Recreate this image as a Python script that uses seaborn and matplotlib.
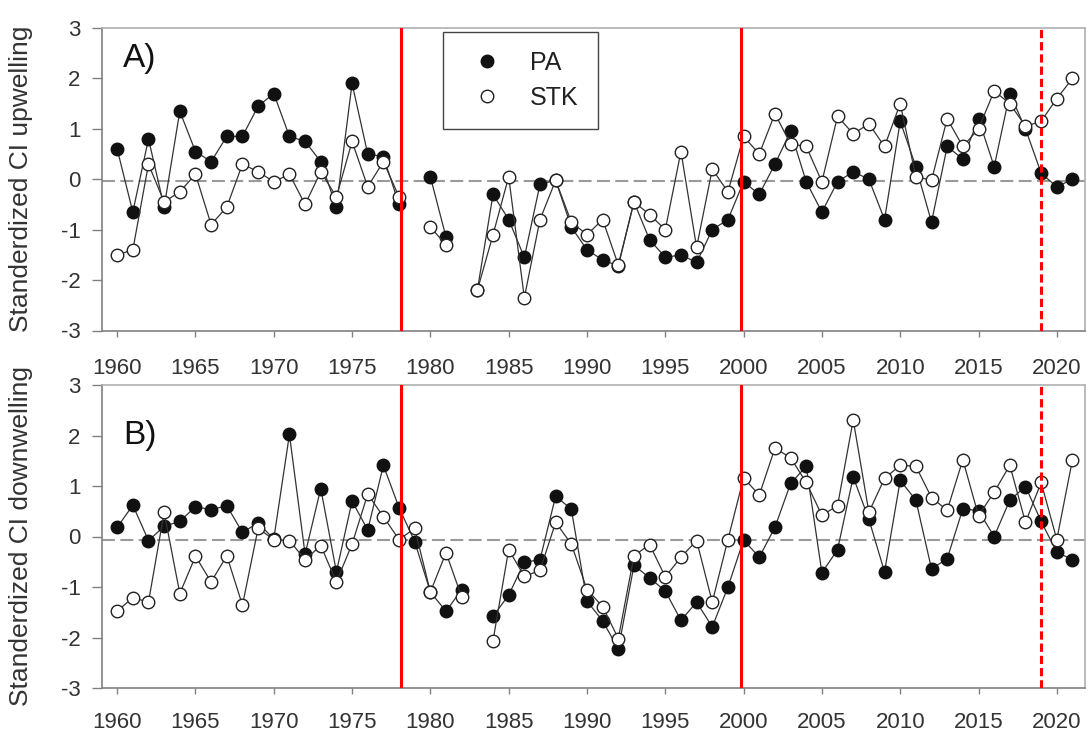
import numpy as np
import pandas as pd
import matplotlib
matplotlib.use("Agg")
import matplotlib.pyplot as plt
import seaborn as sns
from matplotlib.lines import Line2D

nan = np.nan
years = list(range(1960, 2022))

# Panel A: upwelling
up_pa = [0.6, -0.65, 0.8, -0.55, 1.35, 0.55, 0.35, 0.85, 0.85, 1.45,
         1.7, 0.85, 0.75, 0.35, -0.55, 1.9, 0.5, 0.45, -0.5, nan,
         0.05, -1.15, nan, -2.2, -0.3, -0.8, -1.55, -0.1, -0.02, -0.95,
         -1.4, -1.6, -1.72, -0.45, -1.2, -1.55, -1.5, -1.65, -1.0, -0.8,
         -0.05, -0.3, 0.3, 0.95, -0.05, -0.65, -0.05, 0.15, 0.0, -0.8,
         1.15, 0.25, -0.85, 0.65, 0.4, 1.2, 0.25, 1.7, 1.0, 0.12,
         -0.15, 0.0]
up_stk = [-1.5, -1.4, 0.3, -0.45, -0.25, 0.1, -0.9, -0.55, 0.3, 0.15,
          -0.05, 0.1, -0.5, 0.15, -0.35, 0.75, -0.15, 0.35, -0.35, nan,
          -0.95, -1.3, nan, -2.2, -1.1, 0.05, -2.35, -0.8, -0.02, -0.85,
          -1.1, -0.8, -1.7, -0.45, -0.7, -1.0, 0.55, -1.35, 0.2, -0.25,
          0.85, 0.5, 1.3, 0.7, 0.65, -0.05, 1.25, 0.9, 1.1, 0.65,
          1.5, 0.05, -0.02, 1.2, 0.65, 1.0, 1.75, 1.5, 1.05, 1.15,
          1.6, 2.0]

# Panel B: downwelling
dn_pa = [0.18, 0.62, -0.08, 0.2, 0.3, 0.59, 0.53, 0.61, 0.08, 0.27,
         -0.05, 2.02, -0.35, 0.95, -0.7, 0.7, 0.13, 1.41, 0.57, -0.1,
         -1.1, -1.48, -1.05, nan, -1.58, -1.16, -0.51, -0.46, 0.8, 0.54,
         -1.28, -1.67, -2.23, -0.57, -0.82, -1.08, -1.66, -1.3, -1.79, -1.0,
         -0.07, -0.41, 0.18, 1.05, 1.39, -0.72, -0.26, 1.18, 0.34, -0.7,
         1.11, 0.72, -0.64, -0.44, 0.55, 0.51, 0.0, 0.72, 0.99, 0.3,
         -0.31, -0.46]
dn_stk = [-1.48, -1.21, -1.3, 0.48, -1.13, -0.39, -0.9, -0.38, -1.36, 0.16,
          -0.06, -0.08, -0.46, -0.18, -0.9, -0.15, 0.84, 0.39, -0.06, 0.16,
          -1.1, -0.32, -1.2, nan, -2.06, -0.26, -0.79, -0.67, 0.28, -0.15,
          -1.05, -1.39, -2.02, -0.38, -0.16, -0.8, -0.41, -0.08, -1.3, -0.06,
          1.16, 0.82, 1.75, 1.56, 1.07, 0.42, 0.61, 2.31, 0.48, 1.15,
          1.41, 1.39, 0.77, 0.52, 1.52, 0.41, 0.88, 1.41, 0.28, 1.07,
          -0.06, 1.52]

regime_years = [1978.15, 1999.85]
recent_year = 2019.0
series_labels = ["PA", "STK"]
x_ticks = list(range(1960, 2021, 5))
y_ticks = [-3, -2, -1, 0, 1, 2, 3]

sns.set_theme(style="white")
plt.rcParams["font.family"] = ["Liberation Sans", "DejaVu Sans"]

TXT = "#333333"
SPINE = "#808080"


def segments(vals):
    df = pd.DataFrame({"year": years, "value": vals})
    df["seg"] = df["value"].isna().cumsum()
    return df.dropna()


def panel(ax, pa, stk, ylabel, tag, tag_y, zero_y, xpad, legend=False):
    ax.axhline(zero_y, color="#9a9a9a", lw=1.5, ls=(0, (6.2, 2.6)), zorder=1)
    sns.lineplot(data=segments(pa), x="year", y="value", units="seg",
                 estimator=None, ax=ax, color="#333333", lw=0.9,
                 marker="o", markersize=9, markerfacecolor="#111111",
                 markeredgecolor="#111111", markeredgewidth=1.0, zorder=3)
    sns.lineplot(data=segments(stk), x="year", y="value", units="seg",
                 estimator=None, ax=ax, color="#333333", lw=0.9,
                 marker="o", markersize=9, markerfacecolor="white",
                 markeredgecolor="#222222", markeredgewidth=1.0, zorder=4)
    for yr in regime_years:
        ax.axvline(yr, color="#ff0000", lw=2.2, zorder=6)
    ax.axvline(recent_year, color="#ff0000", lw=2.2, ls=(0, (2.7, 1.3)), zorder=6)

    ax.set_xlim(1959, 2021.8)
    ax.set_ylim(-3, 3)
    ax.set_xticks(x_ticks)
    ax.set_yticks(y_ticks)
    ax.set_xticklabels([str(t) for t in x_ticks])
    ax.set_yticklabels([str(t) for t in y_ticks])
    ax.tick_params(axis="x", direction="out", length=4, width=1, pad=xpad,
                   labelsize=16, colors=SPINE, labelcolor=TXT, bottom=True, top=False)
    ax.tick_params(axis="y", direction="out", length=7, width=1, pad=8,
                   labelsize=16, colors=SPINE, labelcolor=TXT, left=True, right=False)
    for s in ax.spines.values():
        s.set_visible(True)
        s.set_color(SPINE)
        s.set_linewidth(1.2)
    ax.spines["top"].set_color("#b0b0b0")
    ax.spines["right"].set_color("#b0b0b0")
    ax.set_xlabel("")
    ax.set_ylabel(ylabel, fontsize=19, color=TXT)
    ax.yaxis.set_label_coords(-0.0697, 0.5)
    ax.text(0.022, tag_y, tag, transform=ax.transAxes, fontsize=24,
            ha="left", va="center", color="#111111")

    if legend:
        handles = [
            Line2D([], [], ls="none", marker="o", ms=9, mfc="#111111", mec="#111111"),
            Line2D([], [], ls="none", marker="o", ms=9, mfc="white", mec="#222222"),
        ]
        leg = ax.legend(handles, series_labels, loc="upper left",
                        bbox_to_anchor=(0.347, 0.987), fontsize=18, frameon=True,
                        fancybox=False, edgecolor="#444444", framealpha=1,
                        borderpad=0.75, handlelength=2.0, handletextpad=0.75,
                        labelspacing=0.45, borderaxespad=0)
        leg.get_frame().set_linewidth(1.0)
        for t in leg.get_texts():
            t.set_color("#222222")


fig = plt.figure(figsize=(10.88, 7.36), dpi=100)
fig.patch.set_facecolor("white")
ax1 = fig.add_axes([101.5 / 1088, 1 - 330.5 / 736, (1085 - 101.5) / 1088, (330.5 - 28) / 736])
ax2 = fig.add_axes([101.5 / 1088, 1 - 688 / 736, (1085 - 101.5) / 1088, (688 - 385) / 736])

panel(ax1, up_pa, up_stk, "Standerdized CI upwelling", "A)", 0.90, -0.03, 16, legend=True)
panel(ax2, dn_pa, dn_stk, "Standerdized CI downwelling", "B)", 0.832, -0.07, 13)

fig.savefig("out.png", dpi=100, facecolor="white")
